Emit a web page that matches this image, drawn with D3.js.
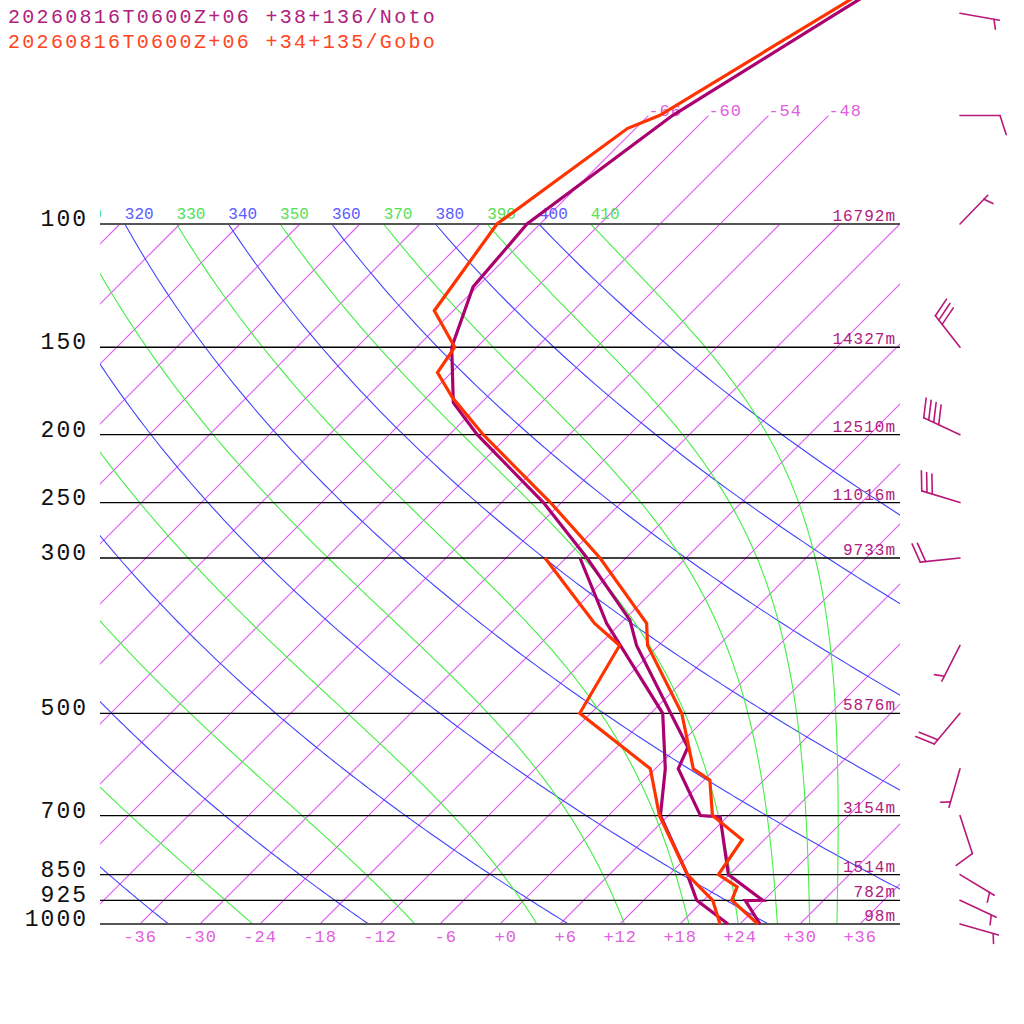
<!DOCTYPE html>
<html>
<head>
<meta charset="utf-8">
<script src="https://cdn.jsdelivr.net/npm/d3@7/dist/d3.min.js"></script>
<style>
  body { margin: 0; background: #fff; }
  svg { display: block; font-family: "Liberation Mono", "DejaVu Sans Mono", monospace; }
</style>
</head>
<body>
<svg id="chart" width="1024" height="1024"></svg>
<script>
// pressure levels drawn as horizontal lines, with their geopotential heights
const levels = [1000, 925, 850, 700, 500, 300, 250, 200, 150, 100];
const heights = ['98m', '782m', '1514m', '3154m', '5876m', '9733m', '11016m', '12510m', '14327m', '16792m'];

// isotherms (deg C), bottom axis labels, and the ones labelled above 100 hPa
const isotherms = d3.range(-108, 37, 6);
const tempTicks = d3.range(-36, 37, 6);
const stratIsotherms = [-66, -60, -54, -48];

// dry adiabats (blue, theta) and pseudo adiabats (green, theta-e), K
const dryAdiabats = [240, 260, 280, 300, 320, 340, 360, 380, 400];
const moistAdiabats = [250, 270, 290, 310, 330, 350, 370, 390, 410];

// sounding 1: Noto
const notoP  = [40, 50, 70, 100, 123, 150, 180, 200, 250, 300, 368, 400, 559, 600, 700, 703, 850, 925, 926, 1000];
const notoT  = [-53.1, -57.4, -63.6, -67.3, -66.4, -62.5, -56.8, -51.2, -37.8, -27.9, -17.4, -14.2, 1.1, 2.3, 9.2, 11.3, 17.9, 23.9, 22.2, 26.0];
const notoTdP = [300, 372, 500, 600, 700, 850, 925, 1000];
const notoTd  = [-28.6, -19.4, -4.8, 1.0, 5.2, 13.8, 17.3, 22.8];

// sounding 2: Gobo
const goboP  = [40, 50, 70, 73, 100, 133, 150, 163, 177, 200, 250, 300, 372, 400, 500, 600, 623, 700, 758, 850, 885, 925, 1000];
const goboT  = [-53.8, -58.3, -64.9, -66.8, -70.3, -67.9, -62.2, -61.4, -57.4, -50.6, -37.1, -26.6, -15.4, -13.1, -2.9, 3.8, 6.6, 10.4, 15.8, 16.9, 20.0, 20.8, 25.8];
const goboTdP = [300, 372, 400, 500, 600, 700, 850, 925, 1000];
const goboTd  = [-32.1, -20.6, -15.9, -13.1, -0.5, 5.1, 13.8, 18.9, 22.0];

// winds (Noto): direction deg, speed kt
const windP   = [1000, 925, 850, 700, 600, 500, 400, 300, 250, 200, 150, 100, 70, 50];
const windDir = [106, 115, 121, 162, 196, 220, 207, 264, 287, 295, 322, 44, 90, 100];
const windSpd = [5, 5, 5, 10, 5, 20, 5, 20, 30, 40, 30, 5, 10, 5];

const titles = ['20260816T0600Z+06 +38+136/Noto', '20260816T0600Z+06 +34+135/Gobo'];

const C = {
  noto: '#aa0070', notoText: '#b0207e', gobo: '#ff3300', goboText: '#ff4422',
  iso: '#e258f6', isoText: '#e060e0', dry: '#4444ff', dryText: '#5a5aff',
  moist: '#44ee44', moistText: '#55e055', barb: '#b81878'
};

const svg = d3.select('#chart');
const left = 100, right = 900;

const y = d3.scaleLog().domain([1000, 100]).range([924, 224]);
const xT = d3.scaleLinear().domain([-40, 40]).range([left, right]);
// skewed x position: 45 degree isotherms
const sx = (t, p) => xT(t) + (y(1000) - y(p));

svg.append('defs').append('clipPath').attr('id', 'plot')
  .append('rect').attr('x', left).attr('y', 0).attr('width', right - left).attr('height', 924);

const grid = svg.append('g').attr('clip-path', 'url(#plot)');
const skewLine = d3.line().x(d => sx(d.t, d.p)).y(d => y(d.p));

// isotherms
const isoGroup = grid.append('g');
isoGroup.selectAll('line')
  .data(isotherms)
  .enter().append('line')
    .attr('x1', t => sx(t, 1000))
    .attr('y1', y(1000))
    .attr('x2', t => sx(t, stratIsotherms.includes(t) ? 70 : 100))
    .attr('y2', t => y(stratIsotherms.includes(t) ? 70 : 100))
    .attr('stroke', C.iso)
    .attr('stroke-width', 1.1);

svg.selectAll('.strat-label')
  .data(stratIsotherms)
  .enter().append('text')
    .attr('class', 'strat-label')
    .attr('x', t => sx(t, 70)).attr('y', y(70))
    .attr('fill', C.isoText).attr('font-size', 17).attr('letter-spacing', 1)
    .text(t => t);

// dry adiabats
const kappa = 0.286;
const pSteps = d3.range(100, 1001, 5);
dryAdiabats.forEach(th => {
  const pts = pSteps.map(p => ({p: p, t: th * Math.pow(p / 1000, kappa) - 273.15}));
  grid.append('path').attr('d', skewLine(pts))
    .attr('fill', 'none').attr('stroke', C.dry).attr('stroke-width', 1.1);
  const lx = sx(pts[0].t, 100);
  if (lx > 60) {
    grid.append('text')
      .attr('x', lx).attr('y', y(100) - 5)
      .attr('fill', C.dryText).attr('font-size', 16).text(th);
  }
});

// pseudo adiabats, integrated downward from 100 hPa
let moistRate = (p, T) => {
  const Rd = 287.04, cp = 1005.7, Lv = 2.46e6, eps = 0.622;
  const tc = T - 273.15;
  const es = 6.112 * Math.exp(17.67 * tc / (tc + 243.5));
  const rs = eps * es / (p - es);
  return (Rd * T + Lv * rs) / (p * (cp + Lv * Lv * rs * eps / (Rd * T * T)));
};
moistAdiabats.forEach(th => {
  let T = th * Math.pow(0.1, kappa);
  const pts = [{p: 100, t: T - 273.15}];
  const dp = 2;
  for (let p = 100; p < 1000; p += dp) {
    const k1 = moistRate(p, T);
    const k2 = moistRate(p + dp, T + k1 * dp);
    T += (k1 + k2) / 2 * dp;
    pts.push({p: p + dp, t: T - 273.15});
  }
  grid.append('path').attr('d', skewLine(pts))
    .attr('fill', 'none').attr('stroke', C.moist).attr('stroke-width', 1.1);
  const lx = sx(pts[0].t, 100);
  if (lx > 60) {
    grid.append('text')
      .attr('x', lx).attr('y', y(100) - 5)
      .attr('fill', C.moistText).attr('font-size', 16).text(th);
  }
});

// pressure lines, labels, heights
levels.forEach((p, i) => {
  const edge = (p == 1000 || p == 100);
  svg.append('line')
    .attr('x1', left).attr('x2', right).attr('y1', y(p)).attr('y2', y(p))
    .attr('stroke', edge ? '#555' : '#000').attr('stroke-width', edge ? 2 : 1.3);
  svg.append('text')
    .attr('x', 88).attr('y', y(p) + 2)
    .attr('text-anchor', 'end').attr('fill', '#111')
    .attr('font-size', 23).attr('letter-spacing', 2)
    .text(p);
  svg.append('text')
    .attr('x', 896).attr('y', y(p) - 3)
    .attr('text-anchor', 'end').attr('fill', C.notoText)
    .attr('font-size', 16).attr('letter-spacing', 1)
    .text(heights[i]);
});

// bottom temperature labels
tempTicks.forEach(t => {
  svg.append('text')
    .attr('x', xT(t) + 17).attr('y', 942)
    .attr('text-anchor', 'end').attr('fill', C.isoText)
    .attr('font-size', 17).attr('letter-spacing', 1)
    .text((t >= 0 ? '+' : '') + t);
});

// soundings
const trace = (ps, ts, color) => {
  svg.append('path')
    .attr('d', skewLine(ps.map((p, i) => ({p: p, t: ts[i]}))))
    .attr('fill', 'none').attr('stroke', color)
    .attr('stroke-width', 3.2).attr('stroke-linejoin', 'miter');
};
trace(notoTdP, notoTd, C.noto);
trace(notoP, notoT, C.noto);
trace(goboTdP, goboTd, C.gobo);
trace(goboP, goboT, C.gobo);

// wind barbs
const barbs = svg.append('g').attr('stroke', C.barb).attr('stroke-width', 1.6)
  .attr('stroke-linecap', 'round').attr('fill', 'none');
windP.forEach((p, i) => {
  const a = windDir[i] * Math.PI / 180;
  const ux = Math.sin(a), uy = -Math.cos(a);
  const px = -uy, py = ux;
  const x0 = 960, y0 = y(p), len = 40, gap = 5.5;
  barbs.append('line').attr('x1', x0).attr('y1', y0)
    .attr('x2', x0 + ux * len).attr('y2', y0 + uy * len);
  let pos = len;
  const full = Math.floor(windSpd[i] / 10), half = (windSpd[i] % 10) >= 5 ? 1 : 0;
  if (full == 0) pos -= gap;
  const tick = (s, L) => {
    const bx = x0 + ux * s, by = y0 + uy * s;
    barbs.append('line').attr('x1', bx).attr('y1', by)
      .attr('x2', bx + (px * 0.95 + ux * 0.31) * L)
      .attr('y2', by + (py * 0.95 + uy * 0.31) * L);
  };
  for (let k = 0; k < full; k++) { tick(pos, 20); pos -= gap; }
  if (half) tick(pos, 10);
});

// titles
titles.forEach((s, i) => {
  svg.append('text')
    .attr('x', 8).attr('y', 23 + i * 25)
    .attr('fill', i == 0 ? C.notoText : C.goboText)
    .attr('font-size', 20).attr('letter-spacing', 2.3)
    .text(s);
});
</script>
</body>
</html>
